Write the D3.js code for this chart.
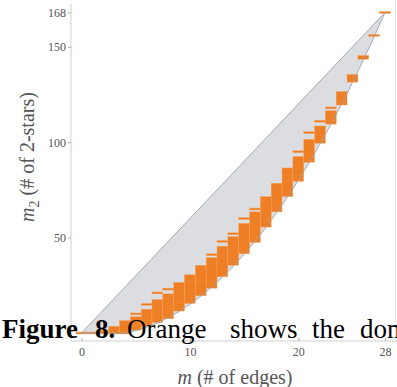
<!DOCTYPE html>
<html>
<head>
<meta charset="utf-8">
<script src="https://cdn.jsdelivr.net/npm/d3@7"></script>
<style>
body { margin: 0; background: #fff; }
svg { display: block; }
</style>
</head>
<body>
<div id="chart"></div>
<script>
// number of edges m (8 nodes, so 0..28)
var edgeCounts = [0, 1, 2, 3, 4, 5, 6, 7, 8, 9, 10, 11, 12, 13, 14,
                  15, 16, 17, 18, 19, 20, 21, 22, 23, 24, 25, 26, 27, 28];
// reachable m2 (# of 2-stars) for each m, as [from, to] runs
var twoStarRuns = [
  [[0, 0]],
  [[0, 0]],
  [[0, 1]],
  [[0, 3]],
  [[0, 6]],
  [[2, 8], [10, 10]],
  [[4, 12], [15, 15]],
  [[6, 17], [21, 21]],
  [[8, 20], [23, 23]],
  [[12, 26]],
  [[16, 30]],
  [[20, 35]],
  [[24, 39], [41, 41]],
  [[30, 45], [48, 48]],
  [[36, 50], [52, 52]],
  [[42, 57], [60, 60]],
  [[48, 63], [65, 65]],
  [[56, 71]],
  [[64, 78]],
  [[72, 86]],
  [[80, 92], [95, 95]],
  [[90, 101], [105, 105]],
  [[100, 108], [111, 111]],
  [[110, 116], [118, 118]],
  [[120, 126]],
  [[132, 135]],
  [[144, 145]],
  [[156, 156]],
  [[168, 168]]
];
// gray region: straight upper edge, curved lower edge
var upperEdges = [0, 28];
var upperTwoStars = [0, 168];
var lowerEdges = [0, 4, 5, 6, 7, 8, 9, 10, 11, 12, 13, 14, 15, 16,
                  17, 18, 19, 20, 21, 22, 23, 24, 25, 26, 27, 28];
var lowerTwoStars = [0, 0, 1.25, 3, 5.25, 8, 11.25, 15, 19.25, 24, 29.25, 35, 41.25, 48,
                     55.25, 63, 71.25, 80, 89.25, 99, 109.25, 120, 131.25, 143, 155.25, 168];
var xTicks = [0, 10, 20, 28];
var yTicks = [50, 100, 150, 168];

var width = 397, height = 387;
var axisX = 71, axisY = 341;
var serif = '"Liberation Serif", "Times New Roman", serif';

var svg = d3.select('#chart').append('svg')
  .attr('width', width)
  .attr('height', height)
  .style('font-family', serif);

var x = d3.scaleLinear().domain([0, 28]).range([81.5, 385]);
var y = d3.scaleLinear().domain([0, 168]).range([333, 12.5]);

// region polygon
var upper = upperEdges.map(function(m, i) { return [m, upperTwoStars[i]]; });
var lower = lowerEdges.map(function(m, i) { return [m, lowerTwoStars[i]]; }).reverse();
var region = upper.concat(lower.slice(1));
var line = d3.line()
  .x(function(d) { return x(d[0]); })
  .y(function(d) { return y(d[1]); });

svg.append('path')
  .attr('d', line(region) + 'Z')
  .attr('fill', '#dcdde0')
  .attr('stroke', 'none');

// orange runs, one block per run of reachable values
var runs = [];
var cells = [];
edgeCounts.forEach(function(m, i) {
  twoStarRuns[i].forEach(function(run) {
    runs.push({ m: m, lo: run[0], hi: run[1] });
    for (var v = run[0]; v <= run[1]; v++) cells.push({ m: m, v: v });
  });
});

var cellG = svg.append('g');
cellG.selectAll('rect')
  .data(runs)
  .enter().append('rect')
  .attr('x', function(d) { return x(d.m - 0.5); })
  .attr('y', function(d) { return y(d.hi + 0.5); })
  .attr('width', function(d) { return x(d.m + 0.5) - x(d.m - 0.5); })
  .attr('height', function(d) { return y(d.lo - 0.5) - y(d.hi + 0.5); })
  .attr('fill', '#ee7b1f')
  .attr('stroke', '#f5a763')
  .attr('stroke-width', 0.4);

// faint cell borders for the grid texture
cellG.selectAll('line')
  .data(cells)
  .enter().append('line')
  .attr('x1', function(d) { return x(d.m - 0.5); })
  .attr('x2', function(d) { return x(d.m + 0.5); })
  .attr('y1', function(d) { return y(d.v + 0.5); })
  .attr('y2', function(d) { return y(d.v + 0.5); })
  .attr('stroke', '#f7b47a')
  .attr('stroke-width', 0.3)
  .attr('opacity', 0.6);

svg.append('path')
  .attr('d', line(region) + 'Z')
  .attr('fill', 'none')
  .attr('stroke', '#9da2a9')
  .attr('stroke-width', 0.9);

// frame lines
svg.append('line')
  .attr('x1', axisX).attr('x2', axisX).attr('y1', 4).attr('y2', axisY)
  .attr('stroke', '#cfcfcf');
svg.append('line')
  .attr('x1', axisX).attr('x2', width).attr('y1', axisY).attr('y2', axisY)
  .attr('stroke', '#cfcfcf');
svg.append('line')
  .attr('x1', 395.5).attr('x2', 395.5).attr('y1', 0).attr('y2', axisY)
  .attr('stroke', '#e4e4e4');

// axes
var yAxis = svg.append('g')
  .attr('transform', 'translate(' + axisX + ',0)')
  .call(d3.axisLeft(y).tickValues(yTicks).tickSize(3).tickSizeOuter(0));
var xAxis = svg.append('g')
  .attr('transform', 'translate(0,' + axisY + ')')
  .call(d3.axisBottom(x).tickValues(xTicks).tickSize(-3).tickSizeOuter(0).tickPadding(6));
[yAxis, xAxis].forEach(function(g) {
  g.attr('font-family', serif).attr('font-size', 12);
  g.select('.domain').remove();
  g.selectAll('.tick line').attr('stroke', '#aaa');
  g.selectAll('.tick text').attr('fill', '#555');
});
yAxis.selectAll('.tick text').attr('x', -5);

// axis titles
var xTitle = svg.append('text')
  .attr('x', 235).attr('y', 384)
  .attr('text-anchor', 'middle')
  .attr('fill', '#555')
  .attr('font-family', serif)
  .attr('font-size', 20);
xTitle.append('tspan').attr('font-style', 'italic').text('m');
xTitle.append('tspan').text(' (# of edges)');

var yTitle = svg.append('text')
  .attr('transform', 'translate(34,157) rotate(-90)')
  .attr('text-anchor', 'middle')
  .attr('fill', '#555')
  .attr('font-family', serif)
  .attr('font-size', 20);
yTitle.append('tspan').attr('font-style', 'italic').text('m');
yTitle.append('tspan').attr('dy', 5).attr('font-size', 14).text('2');
yTitle.append('tspan').attr('dy', -5).text(' (# of 2-stars)');

// caption text crossing the picture
var caption = svg.append('text')
  .attr('y', 338)
  .attr('fill', '#000')
  .attr('font-family', serif)
  .attr('font-size', 27);
caption.append('tspan').attr('x', 2).attr('font-weight', 'bold').text('Figure');
caption.append('tspan').attr('x', 95).attr('font-weight', 'bold').text('8.');
caption.append('tspan').attr('x', 127).text('Orange');
caption.append('tspan').attr('x', 230).text('shows');
caption.append('tspan').attr('x', 312).text('the');
caption.append('tspan').attr('x', 360).text('dom');
</script>
</body>
</html>
